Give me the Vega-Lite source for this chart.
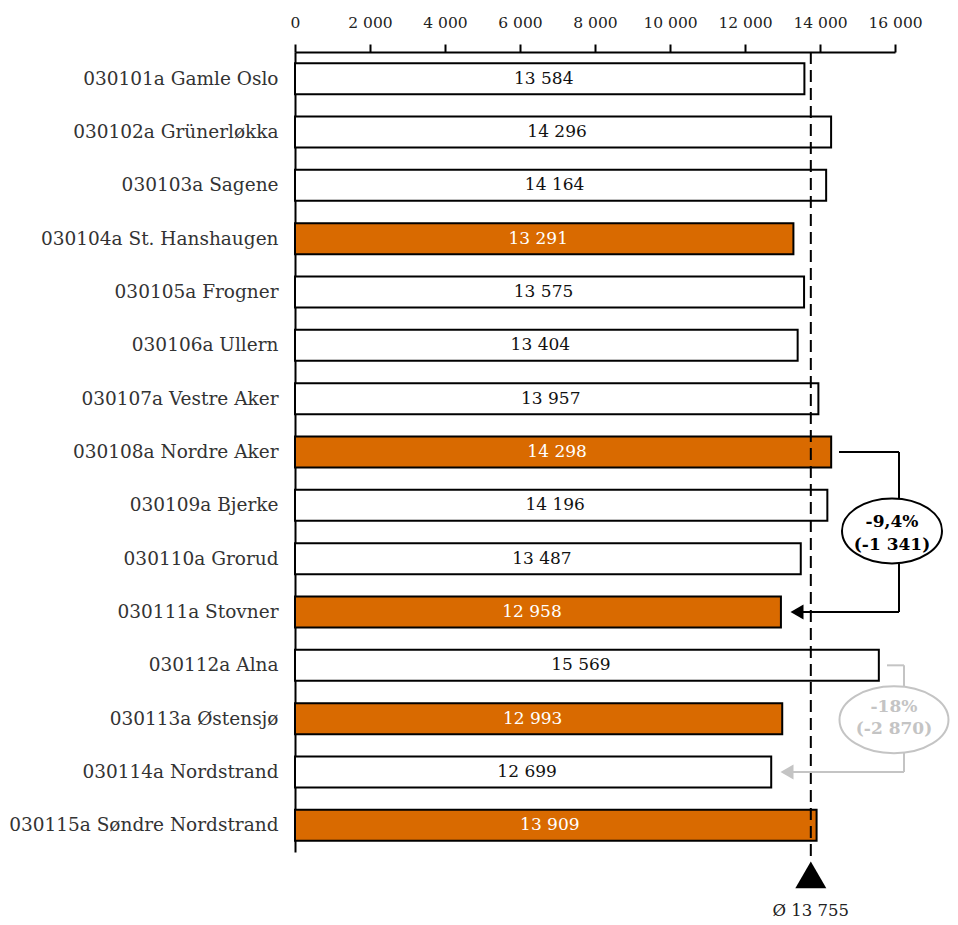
{
  "$schema": "https://vega.github.io/schema/vega-lite/v6.json",
  "width": 600,
  "height": 800,
  "background": "white",
  "padding": {"left": 8, "top": 15, "right": 5, "bottom": 5},
  "config": {"view": {"stroke": null}, "font": "DejaVu Serif"},
  "datasets": {
    "bydeler": [
      {"omrade": "030101a Gamle Oslo", "verdi": 13584, "uthevet": "nei"},
      {"omrade": "030102a Grünerløkka", "verdi": 14296, "uthevet": "nei"},
      {"omrade": "030103a Sagene", "verdi": 14164, "uthevet": "nei"},
      {"omrade": "030104a St. Hanshaugen", "verdi": 13291, "uthevet": "ja"},
      {"omrade": "030105a Frogner", "verdi": 13575, "uthevet": "nei"},
      {"omrade": "030106a Ullern", "verdi": 13404, "uthevet": "nei"},
      {"omrade": "030107a Vestre Aker", "verdi": 13957, "uthevet": "nei"},
      {"omrade": "030108a Nordre Aker", "verdi": 14298, "uthevet": "ja"},
      {"omrade": "030109a Bjerke", "verdi": 14196, "uthevet": "nei"},
      {"omrade": "030110a Grorud", "verdi": 13487, "uthevet": "nei"},
      {"omrade": "030111a Stovner", "verdi": 12958, "uthevet": "ja"},
      {"omrade": "030112a Alna", "verdi": 15569, "uthevet": "nei"},
      {"omrade": "030113a Østensjø", "verdi": 12993, "uthevet": "ja"},
      {"omrade": "030114a Nordstrand", "verdi": 12699, "uthevet": "nei"},
      {"omrade": "030115a Søndre Nordstrand", "verdi": 13909, "uthevet": "ja"}
    ],
    "koblinger": [
      {"par": "Nordre Aker–Stovner", "xa": 14507, "xb": 16107, "ya": 7.5, "yb": 7.5},
      {"par": "Nordre Aker–Stovner", "xa": 16107, "xb": 16107, "ya": 7.5, "yb": 10.5},
      {"par": "Nordre Aker–Stovner", "xa": 16107, "xb": 13387, "ya": 10.5, "yb": 10.5},
      {"par": "Alna–Nordstrand", "xa": 15787, "xb": 16240, "ya": 11.5, "yb": 11.5},
      {"par": "Alna–Nordstrand", "xa": 16240, "xb": 16240, "ya": 11.5, "yb": 13.5},
      {"par": "Alna–Nordstrand", "xa": 16240, "xb": 13120, "ya": 13.5, "yb": 13.5}
    ],
    "pilspisser": [
      {"par": "Nordre Aker–Stovner", "x": 13387, "y": 10.5},
      {"par": "Alna–Nordstrand", "x": 13120, "y": 13.5}
    ],
    "merknader": [
      {"par": "Nordre Aker–Stovner", "tekst": "-9,4%", "x": 15920, "y": 8.81},
      {"par": "Nordre Aker–Stovner", "tekst": "(-1 341)", "x": 15920, "y": 9.24},
      {"par": "Alna–Nordstrand", "tekst": "-18%", "x": 15973, "y": 12.28},
      {"par": "Alna–Nordstrand", "tekst": "(-2 870)", "x": 15973, "y": 12.69}
    ]
  },
  "layer": [
    {
      "data": {"name": "bydeler"},
      "transform": [
        {"calculate": "replace(format(datum.verdi, ','), ',', ' ')", "as": "etikett"},
        {"calculate": "datum.verdi / 2", "as": "midt"}
      ],
      "encoding": {
        "y": {
          "field": "omrade",
          "type": "nominal",
          "sort": null,
          "scale": {"paddingInner": 0.42, "paddingOuter": 0.21},
          "axis": {
            "title": null,
            "orient": "left",
            "ticks": false,
            "domainColor": "#000000",
            "domainWidth": 2,
            "labelFontSize": 18.5,
            "labelColor": "#333333",
            "labelPadding": 17,
            "labelLimit": 400
          }
        }
      },
      "layer": [
        {
          "mark": {"type": "bar", "stroke": "#000000", "strokeWidth": 2},
          "encoding": {
            "x": {
              "field": "verdi",
              "type": "quantitative",
              "scale": {"domain": [0, 16000], "nice": false},
              "axis": {
                "title": null,
                "orient": "top",
                "values": [0, 2000, 4000, 6000, 8000, 10000, 12000, 14000, 16000],
                "labelExpr": "replace(format(datum.value, ','), ',', ' ')",
                "labelOverlap": false,
                "labelFlush": false,
                "grid": false,
                "domainColor": "#000000",
                "domainWidth": 2,
                "tickColor": "#000000",
                "tickWidth": 2,
                "tickSize": 8,
                "labelPadding": 14,
                "labelFontSize": 15.5,
                "labelColor": "#222222"
              }
            },
            "color": {
              "field": "uthevet",
              "type": "nominal",
              "scale": {"domain": ["nei", "ja"], "range": ["#ffffff", "#D96A00"]},
              "legend": null
            }
          }
        },
        {
          "mark": {"type": "text", "fontSize": 17, "align": "center", "baseline": "middle", "dx": -6},
          "encoding": {
            "x": {"field": "midt", "type": "quantitative", "title": null},
            "text": {"field": "etikett"},
            "color": {
              "condition": {"test": "datum.uthevet === 'ja'", "value": "#ffffff"},
              "value": "#111111"
            }
          }
        }
      ]
    },
    {
      "encoding": {
        "y": {
          "type": "quantitative",
          "scale": {"domain": [0, 15], "reverse": true, "nice": false, "zero": false},
          "axis": null
        }
      },
      "layer": [
        {
          "data": {"values": [{"snitt": 13755, "topp": 0, "bunn": 15.15}]},
          "mark": {"type": "rule", "strokeDash": [12, 6], "strokeWidth": 2, "color": "#000000"},
          "encoding": {
            "x": {"field": "snitt", "type": "quantitative", "title": null},
            "y": {"field": "topp", "type": "quantitative"},
            "y2": {"field": "bunn"}
          }
        },
        {
          "data": {"name": "koblinger"},
          "mark": {"type": "rule", "strokeWidth": 2},
          "encoding": {
            "x": {"field": "xa", "type": "quantitative", "title": null},
            "x2": {"field": "xb"},
            "y": {"field": "ya", "type": "quantitative"},
            "y2": {"field": "yb"},
            "color": {
              "field": "par",
              "type": "nominal",
              "scale": {"domain": ["Nordre Aker–Stovner", "Alna–Nordstrand"], "range": ["#000000", "#C4C4C4"]},
              "legend": null
            }
          }
        },
        {
          "data": {"name": "pilspisser"},
          "mark": {"type": "point", "shape": "triangle-left", "filled": true, "size": 225, "opacity": 1},
          "encoding": {
            "x": {"field": "x", "type": "quantitative", "title": null},
            "y": {"field": "y", "type": "quantitative"},
            "color": {
              "field": "par",
              "type": "nominal",
              "scale": {"domain": ["Nordre Aker–Stovner", "Alna–Nordstrand"], "range": ["#000000", "#C4C4C4"]},
              "legend": null
            }
          }
        },
        {
          "data": {"values": [{"x": 15920, "y": 8.98}]},
          "mark": {
            "type": "point",
            "shape": "M -1 0 A 1 0.65 0 1 1 1 0 A 1 0.65 0 1 1 -1 0 Z",
            "size": 10000,
            "filled": true,
            "fill": "#ffffff",
            "stroke": "#000000",
            "strokeWidth": 2,
            "opacity": 1
          },
          "encoding": {
            "x": {"field": "x", "type": "quantitative", "title": null},
            "y": {"field": "y", "type": "quantitative"}
          }
        },
        {
          "data": {"values": [{"x": 15973, "y": 12.52}]},
          "mark": {
            "type": "point",
            "shape": "M -1 0 A 1 0.615 0 1 1 1 0 A 1 0.615 0 1 1 -1 0 Z",
            "size": 11881,
            "filled": true,
            "fill": "#ffffff",
            "stroke": "#C4C4C4",
            "strokeWidth": 2,
            "opacity": 1
          },
          "encoding": {
            "x": {"field": "x", "type": "quantitative", "title": null},
            "y": {"field": "y", "type": "quantitative"}
          }
        },
        {
          "data": {"name": "merknader"},
          "mark": {"type": "text", "fontSize": 17, "fontWeight": "bold", "align": "center", "baseline": "middle"},
          "encoding": {
            "x": {"field": "x", "type": "quantitative", "title": null},
            "y": {"field": "y", "type": "quantitative"},
            "text": {"field": "tekst"},
            "color": {
              "field": "par",
              "type": "nominal",
              "scale": {"domain": ["Nordre Aker–Stovner", "Alna–Nordstrand"], "range": ["#000000", "#A6A6A6"]},
              "legend": null
            }
          }
        },
        {
          "data": {"values": [{"snitt": 13755, "y": 15.43}]},
          "mark": {"type": "point", "shape": "triangle-up", "filled": true, "size": 961, "color": "#000000", "opacity": 1},
          "encoding": {
            "x": {"field": "snitt", "type": "quantitative", "title": null},
            "y": {"field": "y", "type": "quantitative"}
          }
        },
        {
          "data": {"values": [{"snitt": 13755, "y": 16.1, "tekst": "Ø 13 755"}]},
          "mark": {"type": "text", "fontSize": 16.5, "align": "center", "baseline": "middle", "color": "#222222"},
          "encoding": {
            "x": {"field": "snitt", "type": "quantitative", "title": null},
            "y": {"field": "y", "type": "quantitative"},
            "text": {"field": "tekst"}
          }
        }
      ]
    }
  ],
  "resolve": {"scale": {"y": "independent", "color": "independent"}, "axis": {"y": "independent"}}
}
